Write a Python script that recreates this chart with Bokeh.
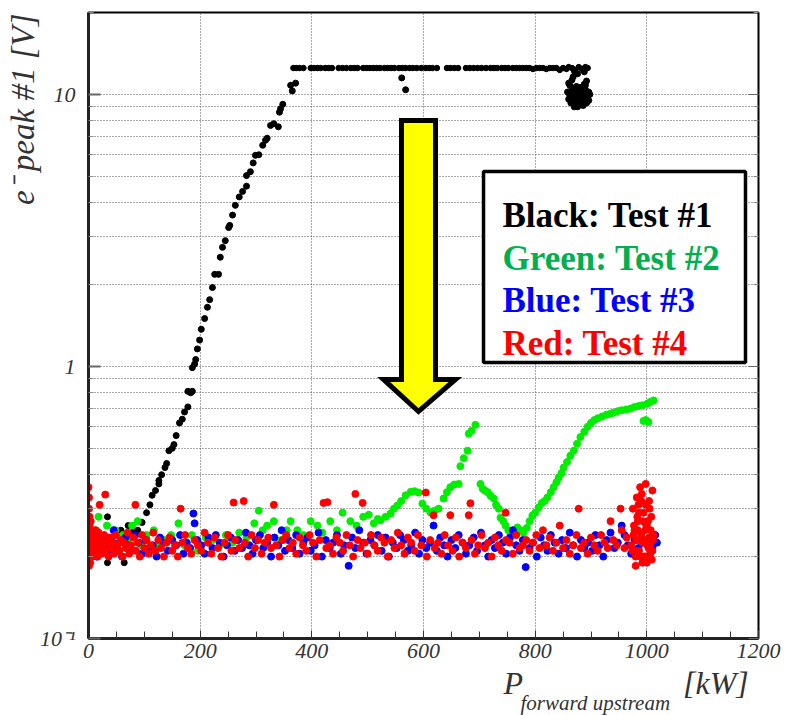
from bokeh.plotting import figure
from bokeh.models import FixedTicker, Label, LogAxis, BasicTickFormatter, Title
from bokeh.embed import file_html
from bokeh.resources import INLINE

# ---------------- data ----------------
# Test #1 (black)
black_low_x = [5, 12, 20, 28, 34, 34, 42, 50, 58, 64, 71, 78, 81, 88, 96, 104, 110]
black_low_y = [0.22, 0.20, 0.21, 0.24, 0.28, 0.19, 0.23, 0.21, 0.25, 0.19, 0.26, 0.24, 0.249, 0.25, 0.267, 0.29, 0.31]
black_rise_x = [114, 120, 126, 126, 131, 137, 140, 144, 150, 153, 157, 163, 168, 172, 178, 178, 183, 186, 186,
                190, 192, 195, 199, 202, 208, 213, 217, 222, 226, 233, 236, 240, 245, 251, 253, 258, 263, 270,
                276, 283, 283, 290, 295, 299, 305, 312, 317, 320, 326, 332, 340, 342, 344, 348, 362, 365, 371]
black_rise_y = [0.336, 0.35, 0.37, 0.381, 0.40, 0.425, 0.44, 0.49, 0.50, 0.516, 0.557, 0.62, 0.64, 0.68, 0.71,
                0.81, 0.80, 0.81, 0.99, 1.02, 1.06, 1.16, 1.25, 1.37, 1.5, 1.65, 1.76, 1.95, 2.18, 2.18, 2.52,
                2.74, 2.9, 3.24, 3.3, 3.6, 3.91, 4.2, 4.4, 4.6, 5.03, 5.2, 5.6, 5.97, 6.0, 6.5, 6.78, 6.9, 7.69,
                7.8, 7.6, 8.6, 8.86, 9.2, 10.8, 10.3, 11.0]
black_flat_x = [367, 372, 378, 385, 398, 404, 410, 416, 424, 430, 436, 448, 455, 462, 470, 476, 482,
                492, 498, 504, 510, 516, 522, 530, 536, 542, 548, 556, 562, 568, 575, 581, 588, 596,
                604, 610, 616, 624, 642, 648, 655, 662, 676, 683, 690, 697, 704, 712, 720, 726, 732,
                740, 746, 752, 760, 766, 772, 778, 784, 790, 796, 802, 808, 814, 820, 826, 832, 838,
                844, 850, 856, 860, 866, 872, 878, 884, 890, 894]
black_flat_y = [12.5, 12.5, 12.5, 12.5, 12.5, 12.5, 12.5, 12.5, 12.5, 12.5, 12.5, 12.5, 12.5, 12.5, 12.5,
                12.5, 12.5, 12.5, 12.5, 12.5, 12.5, 12.5, 12.5, 12.5, 12.5, 12.5, 12.5, 12.5, 12.5, 12.5,
                12.5, 12.5, 12.5, 12.5, 12.5, 12.5, 12.5, 12.5, 12.5, 12.5, 12.5, 12.5, 12.5, 12.5, 12.5,
                12.5, 12.5, 12.5, 12.5, 12.5, 12.5, 12.5, 12.5, 12.5, 12.5, 12.5, 12.5, 12.5, 12.5, 12.5,
                12.4, 12.5, 12.5, 12.5, 12.4, 12.5, 12.5, 12.5, 12.3, 12.5, 12.4, 12.6, 12.5, 12.3, 12.6,
                12.4, 12.6, 12.5]
black_drop_x = [561, 568, 858, 860, 862, 864, 866, 868, 870, 872, 874, 876, 878, 880, 882, 884, 886, 888,
                890, 892, 894, 896, 898, 862, 866, 870, 874, 878, 882, 886, 890, 894, 860, 864, 868, 872,
                876, 880, 884, 888, 892, 896, 866, 872, 878, 884, 890, 868, 880, 892, 876, 886, 870, 888]
black_drop_y = [11.5, 10.4, 10.2, 9.6, 10.8, 9.3, 10.0, 11.6, 9.0, 10.4, 9.8, 11.9, 9.4, 10.6, 9.9, 10.3,
                9.1, 10.9, 9.7, 11.2, 10.1, 9.5, 10.0, 9.9, 10.5, 9.7, 10.7, 9.2, 10.2, 9.6, 10.4, 9.9,
                11.0, 10.1, 9.4, 10.6, 9.0, 10.3, 9.8, 10.0, 9.3, 10.2, 11.3, 9.9, 10.5, 9.5, 10.8, 10.0,
                9.6, 9.9, 10.1, 9.7, 12.2, 12.1]

# Test #2 (green)
green_x = [3, 8, 14, 18, 25, 33, 40, 48, 55, 62, 70, 78, 88, 95, 104, 117, 125, 135, 148, 161, 172, 185,
           196, 210, 222, 235, 246, 258, 270, 283, 297, 305, 312, 320, 332, 345, 355, 362, 374, 385, 398,
           410, 419, 433, 445, 455, 469, 480, 492, 502, 511, 518,
           523, 532, 541, 547, 553, 560, 568, 577, 584, 591, 598, 605, 613, 620, 627, 636, 642, 648, 655,
           663, 666, 672, 679, 681, 686, 693, 702, 706, 710, 715, 720, 726, 730, 735, 738, 743, 747, 752,
           756, 762, 768, 774, 779, 785, 790, 795, 800, 806, 812, 817, 822, 828, 833, 838, 842, 847, 851,
           857, 863, 869, 875, 881, 888, 894, 900, 906, 912, 920, 928, 935, 940, 948, 955, 963, 971, 978,
           985, 992, 1001, 1006, 1012, 994, 998, 1003]
green_y = [0.24, 0.22, 0.25, 0.28, 0.23, 0.26, 0.22, 0.25, 0.21, 0.24, 0.23, 0.26, 0.27, 0.22, 0.24, 0.25,
           0.22, 0.23, 0.24, 0.265, 0.22, 0.24, 0.21, 0.235, 0.23, 0.22, 0.24, 0.225, 0.245, 0.235, 0.265,
           0.295, 0.25, 0.26, 0.27, 0.23, 0.25, 0.27, 0.25, 0.24, 0.27, 0.26, 0.245, 0.27, 0.25, 0.29, 0.27,
           0.26, 0.28, 0.285, 0.265, 0.275,
           0.272, 0.28, 0.288, 0.30, 0.308, 0.32, 0.336, 0.346, 0.348, 0.344, 0.313, 0.30, 0.29, 0.295, 0.30,
           0.327, 0.345, 0.36, 0.368, 0.37, 0.43, 0.46, 0.49, 0.566, 0.58, 0.61, 0.37, 0.355, 0.35, 0.345,
           0.335, 0.327, 0.31, 0.30, 0.278, 0.27, 0.26, 0.25, 0.243, 0.25, 0.256, 0.25, 0.245, 0.255, 0.27,
           0.283, 0.29, 0.303, 0.315, 0.32, 0.33, 0.345, 0.36, 0.375, 0.39, 0.405, 0.425, 0.445, 0.47, 0.49,
           0.52, 0.55, 0.575, 0.6, 0.62, 0.635, 0.645, 0.655, 0.665, 0.67, 0.676, 0.685, 0.69, 0.695, 0.70,
           0.71, 0.715, 0.72, 0.73, 0.74, 0.75, 0.63, 0.635, 0.625]

# Test #3 (blue)
blue_x = [2, 5, 8, 12, 15, 20, 25, 30, 35, 40, 45, 50, 55, 60, 66, 72, 78, 84, 90, 96, 102, 108, 115, 122,
          128, 135, 142, 150, 157, 164, 170, 176, 182, 188, 190, 195, 202, 208, 215, 222, 228, 235, 242,
          248, 255, 262, 268, 275, 282, 288, 294, 300, 307, 313, 320, 327, 333, 340, 346, 352, 358, 365,
          372, 378, 385, 392, 398, 405, 412, 418, 425, 432, 438, 445, 452, 458, 466, 472, 478, 485, 492,
          498, 505, 512, 518, 525, 532, 538, 545, 552, 558, 565, 572, 578, 585, 592, 598, 605, 612, 618,
          624, 630, 637, 643, 650, 657, 663, 670, 676, 682, 690, 696, 703, 710, 716, 722, 728, 735, 742,
          748, 755, 760, 766, 772, 778, 783, 790, 796, 803, 810, 816, 822, 828, 835, 842, 848, 855, 862,
          868, 875, 882, 888, 895, 902, 908, 915, 922, 928, 935, 942, 948, 955, 960, 966, 972, 978, 985,
          992, 998, 1005, 1010, 1015, 1018]
blue_y = [0.21, 0.23, 0.22, 0.245, 0.2, 0.215, 0.235, 0.22, 0.205, 0.23, 0.25, 0.215, 0.225, 0.2, 0.235,
          0.22, 0.21, 0.24, 0.225, 0.205, 0.23, 0.215, 0.22, 0.2, 0.235, 0.225, 0.21, 0.23, 0.22, 0.24,
          0.205, 0.225, 0.215, 0.288, 0.265, 0.23, 0.22, 0.205, 0.235, 0.215, 0.24, 0.225, 0.2, 0.22, 0.235,
          0.21, 0.23, 0.215, 0.245, 0.22, 0.205, 0.23, 0.24, 0.215, 0.225, 0.2, 0.235, 0.22, 0.25, 0.21,
          0.23, 0.215, 0.24, 0.205, 0.225, 0.235, 0.21, 0.22, 0.245, 0.2, 0.23, 0.215, 0.225, 0.24, 0.205,
          0.22, 0.185, 0.235, 0.215, 0.25, 0.225, 0.205, 0.23, 0.22, 0.24, 0.21, 0.235, 0.2, 0.225, 0.215,
          0.24, 0.23, 0.21, 0.22, 0.245, 0.205, 0.23, 0.215, 0.225, 0.26, 0.21, 0.235, 0.22, 0.2, 0.23,
          0.215, 0.24, 0.225, 0.205, 0.22, 0.235, 0.21, 0.245, 0.22, 0.2, 0.23, 0.215, 0.24, 0.225, 0.205,
          0.235, 0.25, 0.22, 0.21, 0.23, 0.183, 0.215, 0.225, 0.2, 0.235, 0.22, 0.21, 0.24, 0.225, 0.205,
          0.23, 0.215, 0.245, 0.22, 0.2, 0.23, 0.215, 0.225, 0.21, 0.24, 0.22, 0.2, 0.23, 0.245, 0.215,
          0.225, 0.26, 0.24, 0.22, 0.205, 0.23, 0.215, 0.225, 0.2, 0.23, 0.215, 0.24, 0.225]

# Test #4 (red)
red_x = [0, 1, 1, 2, 2, 3, 3, 0, 1, 2, 0, 3, 1, 4, 5, 5, 6, 6, 7, 8, 8, 9, 10, 11, 12, 13, 14, 16, 17, 18,
         20, 20, 22, 24, 26, 28, 30, 30, 33, 36, 38, 41, 44, 46, 49, 52, 55, 58, 61, 64, 67, 70, 73, 76,
         80, 84, 85, 88, 92, 96, 100, 104, 108, 112, 116, 120, 125, 130, 135, 140, 145, 150, 155, 160,
         165, 168, 173, 178, 184, 190, 196, 202, 208, 214, 220, 226, 232, 238, 244, 250, 256, 260, 263,
         270, 278, 280, 286, 292, 298, 304, 310, 316, 322, 327, 332, 336, 342, 348, 354, 360, 366, 372,
         378, 384, 390, 396, 402, 408, 414, 421, 426, 428, 432, 438, 444, 450, 456, 462, 468, 474, 478,
         482, 487, 491, 495, 500, 506, 512, 518, 524, 530, 536, 542, 548, 554, 560, 566, 572, 578, 584,
         590, 596, 604, 606, 612, 618, 620, 626, 632, 638, 644, 648, 652, 658, 664, 670, 676, 681, 684,
         686, 692, 698, 704, 710, 716, 722, 728, 734, 740, 747, 748, 754, 760, 766, 772, 778, 784, 790,
         796, 802, 808, 814, 820, 826, 832, 838, 844, 850, 856, 862, 868, 874, 878, 882, 888, 894, 900,
         906, 912, 918, 924, 930, 935, 940, 946, 953, 955, 960, 964,
         972, 975, 978, 980, 982, 984, 986, 988, 990, 992, 994, 996, 998, 1000, 1002, 1004, 1006, 1008,
         1010, 1012, 974, 977, 981, 985, 989, 993, 997, 1001, 1005, 1009, 976, 979, 983, 987, 991, 995,
         999, 1003, 1007, 1011, 980, 986, 992, 998, 1004, 1010, 984, 996, 1002, 990, 1000, 1006]
red_y = [0.36, 0.33, 0.3, 0.28, 0.26, 0.25, 0.24, 0.23, 0.22, 0.21, 0.2, 0.19, 0.185, 0.27, 0.23, 0.21,
         0.25, 0.2, 0.22, 0.24, 0.215, 0.205, 0.23, 0.22, 0.25, 0.21, 0.235, 0.2, 0.225, 0.245, 0.31, 0.215,
         0.23, 0.205, 0.22, 0.24, 0.338, 0.21, 0.225, 0.2, 0.235, 0.215, 0.225, 0.205, 0.24, 0.22, 0.21,
         0.23, 0.2, 0.225, 0.215, 0.245, 0.205, 0.22, 0.235, 0.31, 0.21, 0.225, 0.2, 0.24, 0.215, 0.23,
         0.205, 0.22, 0.245, 0.21, 0.23, 0.215, 0.2, 0.225, 0.235, 0.21, 0.22, 0.2, 0.30, 0.225, 0.24,
         0.215, 0.205, 0.23, 0.22, 0.21, 0.245, 0.225, 0.205, 0.235, 0.215, 0.2, 0.225, 0.24, 0.21, 0.316,
         0.23, 0.215, 0.32, 0.225, 0.2, 0.24, 0.215, 0.23, 0.205, 0.225, 0.235, 0.215, 0.31, 0.22, 0.2,
         0.23, 0.24, 0.215, 0.225, 0.205, 0.235, 0.22, 0.21, 0.24, 0.225, 0.2, 0.23, 0.315, 0.215, 0.317,
         0.22, 0.205, 0.235, 0.225, 0.21, 0.24, 0.22, 0.2, 0.34, 0.23, 0.215, 0.315, 0.225, 0.205, 0.24,
         0.22, 0.21, 0.235, 0.225, 0.2, 0.23, 0.215, 0.245, 0.22, 0.205, 0.235, 0.225, 0.21, 0.24, 0.22,
         0.344, 0.2, 0.23, 0.284, 0.215, 0.225, 0.205, 0.24, 0.22, 0.284, 0.21, 0.235, 0.2, 0.225, 0.215,
         0.284, 0.314, 0.23, 0.205, 0.22, 0.24, 0.215, 0.225, 0.2, 0.235, 0.22, 0.21, 0.29, 0.23, 0.225,
         0.205, 0.24, 0.215, 0.22, 0.23, 0.21, 0.225, 0.24, 0.215, 0.25, 0.22, 0.235, 0.21, 0.225, 0.26,
         0.215, 0.23, 0.205, 0.22, 0.24, 0.30, 0.215, 0.225, 0.205, 0.235, 0.22, 0.21, 0.24, 0.225, 0.215,
         0.27, 0.23, 0.22, 0.30, 0.25, 0.215, 0.235,
         0.22, 0.30, 0.25, 0.20, 0.33, 0.27, 0.21, 0.36, 0.24, 0.19, 0.29, 0.23, 0.37, 0.26, 0.2, 0.32,
         0.22, 0.28, 0.35, 0.24, 0.21, 0.26, 0.23, 0.31, 0.2, 0.27, 0.25, 0.22, 0.3, 0.195, 0.24, 0.21,
         0.28, 0.23, 0.34, 0.2, 0.26, 0.215, 0.25, 0.23, 0.185, 0.29, 0.225, 0.31, 0.235, 0.21, 0.25, 0.2,
         0.27, 0.32, 0.19, 0.205]

x_major = [0, 200, 400, 600, 800, 1000, 1200]
x_minor = [50, 100, 150, 250, 300, 350, 450, 500, 550, 650, 700, 750, 850, 900, 950, 1050, 1100, 1150]
y_major = [0.1, 1, 10]
y_minor = [0.2, 0.3, 0.4, 0.5, 0.6, 0.7, 0.8, 0.9, 2, 3, 4, 5, 6, 7, 8, 9, 20]
y_labels = {0.1: "10\u207b\u00b9", 1: "1", 10: "10"}

legend_lines = ["Black: Test #1", "Green: Test #2", "Blue: Test #3", "Red: Test #4"]
legend_colors = ["#000000", "#00b050", "#0000ff", "#ff0000"]

# ---------------- figure ----------------
SERIF = "Liberation Serif"
p = figure(frame_width=670, frame_height=626, x_range=(0, 1200), y_range=(0.1, 20),
           y_axis_type="log", output_backend="svg", toolbar_location=None, title=None,
           min_border_left=88, min_border_right=24, min_border_top=12, min_border_bottom=77)
p.background_fill_color = "white"
p.border_fill_color = "white"
p.outline_line_color = "black"
p.outline_line_width = 2

p.xaxis.ticker = FixedTicker(ticks=x_major, minor_ticks=x_minor)
p.yaxis.ticker = FixedTicker(ticks=y_major, minor_ticks=y_minor)
p.yaxis.formatter = BasicTickFormatter()
p.yaxis.major_label_overrides = y_labels

for ax in (p.xaxis[0], p.yaxis[0]):
    ax.axis_line_width = 3
    ax.axis_line_color = "#222222"
    ax.major_tick_out = 0
    ax.minor_tick_out = 0
    ax.major_label_text_font = SERIF
    ax.major_label_text_font_style = "italic"
    ax.major_label_text_font_size = "22px"
    ax.major_label_text_color = "#333333"
p.xaxis.major_tick_in = 8
p.xaxis.minor_tick_in = 7
p.xaxis.major_tick_line_color = "#333333"
p.xaxis.minor_tick_line_color = "#333333"
p.xaxis.major_label_standoff = 5
p.yaxis.major_tick_in = 12
p.yaxis.major_tick_line_width = 2
p.yaxis.major_tick_line_color = "#666666"
p.yaxis.minor_tick_in = 5
p.yaxis.minor_tick_line_color = "#888888"
p.yaxis.major_label_standoff = 13

right = LogAxis(ticker=FixedTicker(ticks=y_major, minor_ticks=y_minor), axis_line_color=None,
                major_tick_in=10, major_tick_out=0, minor_tick_in=5, minor_tick_out=0,
                major_tick_line_color="#666666", minor_tick_line_color="#888888",
                major_label_text_font_size="1px", major_label_text_alpha=0, major_label_standoff=0)
p.add_layout(right, "right")

p.xgrid.grid_line_color = "#555555"
p.xgrid.grid_line_dash = "1 2"
p.xgrid.grid_line_width = 1
p.ygrid.grid_line_color = "#555555"
p.ygrid.grid_line_dash = "1 2"
p.ygrid.minor_grid_line_color = "#555555"
p.ygrid.minor_grid_line_dash = "1 2"

# ---------------- points ----------------
p.scatter(black_low_x, black_low_y, size=6, color="#000000")
p.scatter(black_rise_x, black_rise_y, size=6, color="#000000")
p.scatter(black_flat_x, black_flat_y, size=5.5, color="#000000")
p.scatter(black_drop_x, black_drop_y, size=6, color="#000000")
p.scatter(green_x, green_y, size=7, color="#00ee00")
p.scatter(blue_x, blue_y, size=7, color="#0000ff")
p.scatter(red_x, red_y, size=7, color="#ff0000")

# ---------------- arrow ----------------
p.patch([560.6, 621.5, 621.5, 657.3, 591.0, 528.4, 560.6],
        [8.02, 8.02, 0.896, 0.896, 0.683, 0.896, 0.896],
        fill_color="#ffff00", line_color="black", line_width=5, line_join="miter")

# ---------------- legend box ----------------
p.quad(left=[707.5], right=[1176.7], top=[5.21], bottom=[1.034],
       fill_color="white", line_color="black", line_width=3.5)
for txt, col, yy in zip(legend_lines, legend_colors, [3.59, 2.494, 1.748, 1.215]):
    p.add_layout(Label(x=741.5, y=yy, text=txt, text_color=col, text_font=SERIF,
                       text_font_style="bold", text_font_size="35px", text_baseline="alphabetic"))


# ---------------- axis titles (as Title annotations in the side panels) ----------------
def side_title(text, size, align, offset, valign, standoff):
    t = Title(text=text, align=align, offset=offset, vertical_align=valign,
              text_font=SERIF, text_font_style="italic", text_font_size=size,
              text_color="#333333")
    try:
        t.standoff = standoff
    except Exception:
        t.standoff = 0
    return t


p.add_layout(side_title("e\u207b peak #1 [V]", "33px", "right", 1, "bottom", -8), "left")
p.add_layout(side_title("P" + "\u00a0" * 20 + "[kW]", "32px", "left", 415, "top", 8), "below")
p.add_layout(side_title("forward upstream", "21px", "left", 432, "top", -32), "below")

open("out.html", "w").write(file_html(p, INLINE))
